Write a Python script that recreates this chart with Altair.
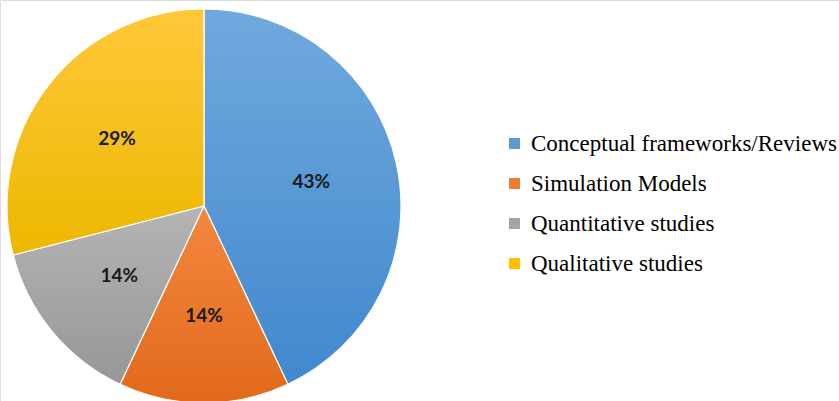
import altair as alt
import pandas as pd

categories = ["Conceptual frameworks/Reviews", "Simulation Models",
              "Quantitative studies", "Qualitative studies"]
values = [43, 14, 14, 29]
labels = ["43%", "14%", "14%", "29%"]
colors = ["#5B9BD5", "#ED7D31", "#A5A5A5", "#FFC000"]
grad_top = ["#70A9DE", "#F2883F", "#B4B4B4", "#FFC83A"]
grad_bot = ["#4188CD", "#E2691C", "#979797", "#EDB700"]

df = pd.DataFrame({"category": categories, "value": values, "label": labels,
                   "order": list(range(len(categories)))})

CX, CY, R = 204, 206, 197

base = alt.Chart(df).transform_window(
    end="sum(value)", sort=[alt.SortField("order")], frame=[None, 0]
).transform_calculate(
    start="datum.end - datum.value",
    mid="datum.end - datum.value / 2"
)

theta_scale = alt.Scale(domain=[0, 100])

pie = base.mark_arc(outerRadius=R, stroke="white", strokeWidth=1.2).encode(
    theta=alt.Theta("start:Q", scale=theta_scale),
    theta2="end:Q",
    x=alt.value(CX), y=alt.value(CY),
    color=alt.Color("category:N", sort=categories,
                    scale=alt.Scale(domain=categories, range=colors),
                    legend=alt.Legend(
                        title=None, orient="none", legendX=503, legendY=132,
                        labelFont="Liberation Serif", labelFontSize=23,
                        labelColor="black", labelLimit=400,
                        symbolType="square", symbolSize=121,
                        symbolStrokeWidth=0, labelOffset=5,
                        rowPadding=16, padding=0, symbolOffset=0)),
)

layers = [pie]
for i, cat in enumerate(categories):
    grad = alt.Gradient(
        gradient="linear", x1=0, y1=0, x2=0, y2=1,
        stops=[alt.GradientStop(color=grad_top[i], offset=0),
               alt.GradientStop(color=grad_bot[i], offset=1)])
    layers.append(
        base.transform_filter(alt.datum.category == cat).mark_arc(
            outerRadius=R, color=grad, stroke="white", strokeWidth=1.2
        ).encode(
            theta=alt.Theta("start:Q", scale=theta_scale),
            theta2="end:Q",
            x=alt.value(CX), y=alt.value(CY),
        )
    )

text = base.mark_text(font="Lato", fontWeight="bold", fontSize=19,
                      color="#1a1a1a").encode(
    theta=alt.Theta("mid:Q", scale=theta_scale),
    radius=alt.value(110),
    x=alt.value(CX), y=alt.value(CY),
    text="label:N",
)
layers.append(text)

chart = alt.layer(*layers).properties(
    width=839, height=401, padding=0,
    autosize=alt.AutoSizeParams(type="none")
).configure_view(stroke=None).configure(background="white")

chart.save("out.html", embed_options={"renderer": "svg", "actions": False})
